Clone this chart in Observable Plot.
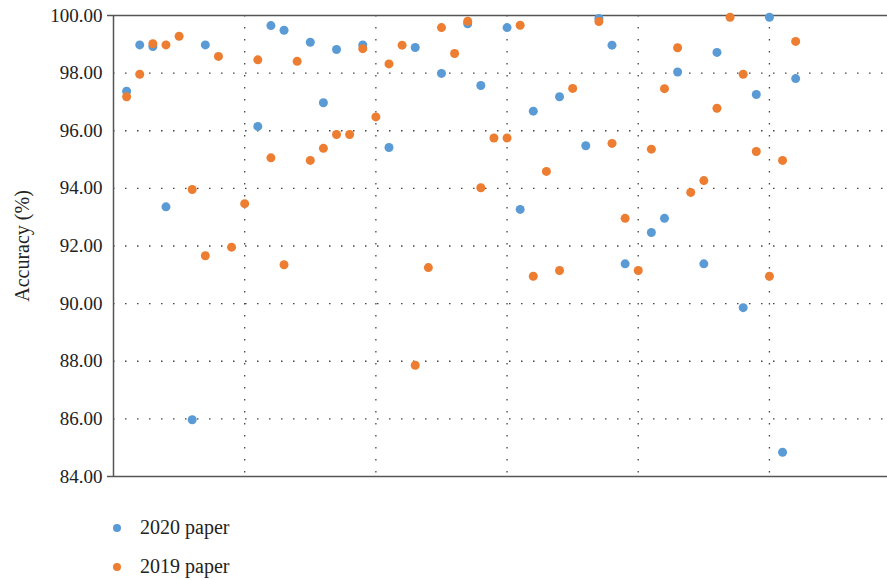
<!DOCTYPE html>
<html>
<head>
<meta charset="utf-8">
<script src="https://cdn.jsdelivr.net/npm/d3@7"></script>
<script src="https://cdn.jsdelivr.net/npm/@observablehq/plot@0.6"></script>
<style>
  html, body { margin: 0; padding: 0; background: #fff; }
  body { width: 887px; height: 580px; overflow: hidden; font-family: "Liberation Serif", "DejaVu Serif", serif; }
  #legend { position: relative; height: 90px; }
  .row { position: absolute; left: 0; display: flex; align-items: center; font-size: 20px; color: #222; }
  .sw { position: absolute; left: 113px; width: 8px; height: 8px; border-radius: 50%; }
  .lab { position: absolute; left: 140px; white-space: nowrap; }
</style>
</head>
<body>
<div id="chart"></div>
<div id="legend"></div>
<script>
const seriesNames = ["2020 paper", "2019 paper"];
const seriesColors = ["#5B9BD5", "#ED7D31"];

const idx2020 = [1,2,3,4,6,7,11,12,13,15,16,17,19,21,23,25,27,28,30,31,32,34,36,37,38,39,41,42,43,45,46,48,49,50,51,52];
const acc2020 = [97.37,98.98,98.92,93.36,85.97,98.98,96.15,99.65,99.49,99.07,96.97,98.82,98.98,95.42,98.89,97.99,99.71,97.57,99.58,93.27,96.68,97.18,95.48,99.90,98.97,91.38,92.47,92.96,98.04,91.38,98.72,89.86,97.26,99.94,84.84,97.81];

const idx2019 = [1,2,3,4,5,6,7,8,9,10,11,12,13,14,15,16,17,18,19,20,21,22,23,24,25,26,27,28,29,30,31,32,33,34,35,37,38,39,40,41,42,43,44,45,46,47,48,49,50,51,52];
const acc2019 = [97.18,97.96,99.02,98.98,99.28,93.96,91.66,98.58,91.96,93.47,98.46,95.06,91.35,98.41,94.97,95.39,95.87,95.87,98.85,96.48,98.32,98.97,87.86,91.25,99.58,98.68,99.80,94.02,95.75,95.75,99.66,90.95,94.59,91.15,97.47,99.79,95.56,92.96,91.15,95.36,97.46,98.88,93.86,94.27,96.78,99.94,97.96,95.28,90.95,94.97,99.10];

const yTicks = [84,86,88,90,92,94,96,98,100];
const xGrid = [10,20,30,40,50];
const yLabel = "Accuracy (%)";

const d2020 = idx2020.map((x, i) => ({x, y: acc2020[i]}));
const d2019 = idx2019.map((x, i) => ({x, y: acc2019[i]}));

const chart = Plot.plot({
  width: 887,
  height: 490,
  marginLeft: 113,
  marginRight: 0,
  marginTop: 15,
  marginBottom: 14,
  style: {fontFamily: "'Liberation Serif', serif", fontSize: "19px", color: "#222", background: "#fff", overflow: "visible"},
  x: {domain: [0, 59], axis: null},
  y: {domain: [84, 100], axis: null},
  marks: [
    Plot.ruleY(yTicks.filter(d => d > 84 && d < 100), {stroke: "#444", strokeWidth: 1.3, strokeDasharray: "1.5,10.5"}),
    Plot.ruleX(xGrid, {stroke: "#444", strokeWidth: 1.3, strokeDasharray: "1.5,10.5"}),
    Plot.ruleY([84, 100], {stroke: "#555", strokeWidth: 1.5}),
    Plot.ruleX([0], {stroke: "#555", strokeWidth: 1.5}),
    Plot.axisY([84, 100], {tickSize: 6, tickFormat: () => "", stroke: "#555", strokeWidth: 1.5, label: null}),
    Plot.axisY(yTicks, {tickSize: 0, tickPadding: 11, tickFormat: d => d.toFixed(2), fontSize: 19, label: null}),
    Plot.text([yLabel], {frameAnchor: "left", dx: -91, rotate: -90, textAnchor: "middle", fontSize: 20, fill: "#222"}),
    Plot.dot(d2020, {x: "x", y: "y", r: 4.5, fill: seriesColors[0], stroke: "none"}),
    Plot.dot(d2019, {x: "x", y: "y", r: 4.5, fill: seriesColors[1], stroke: "none"})
  ]
});
document.getElementById("chart").appendChild(chart);

const legend = document.getElementById("legend");
seriesNames.forEach((name, i) => {
  const row = document.createElement("div");
  row.className = "row";
  row.style.top = (25 + i * 39) + "px";
  row.style.height = "24px";
  row.style.width = "400px";
  const sw = document.createElement("span");
  sw.className = "sw";
  sw.style.background = seriesColors[i];
  sw.style.top = "9px";
  const lab = document.createElement("span");
  lab.className = "lab";
  lab.textContent = name;
  lab.style.top = "0px";
  lab.style.lineHeight = "24px";
  row.appendChild(sw);
  row.appendChild(lab);
  legend.appendChild(row);
});
</script>
</body>
</html>
